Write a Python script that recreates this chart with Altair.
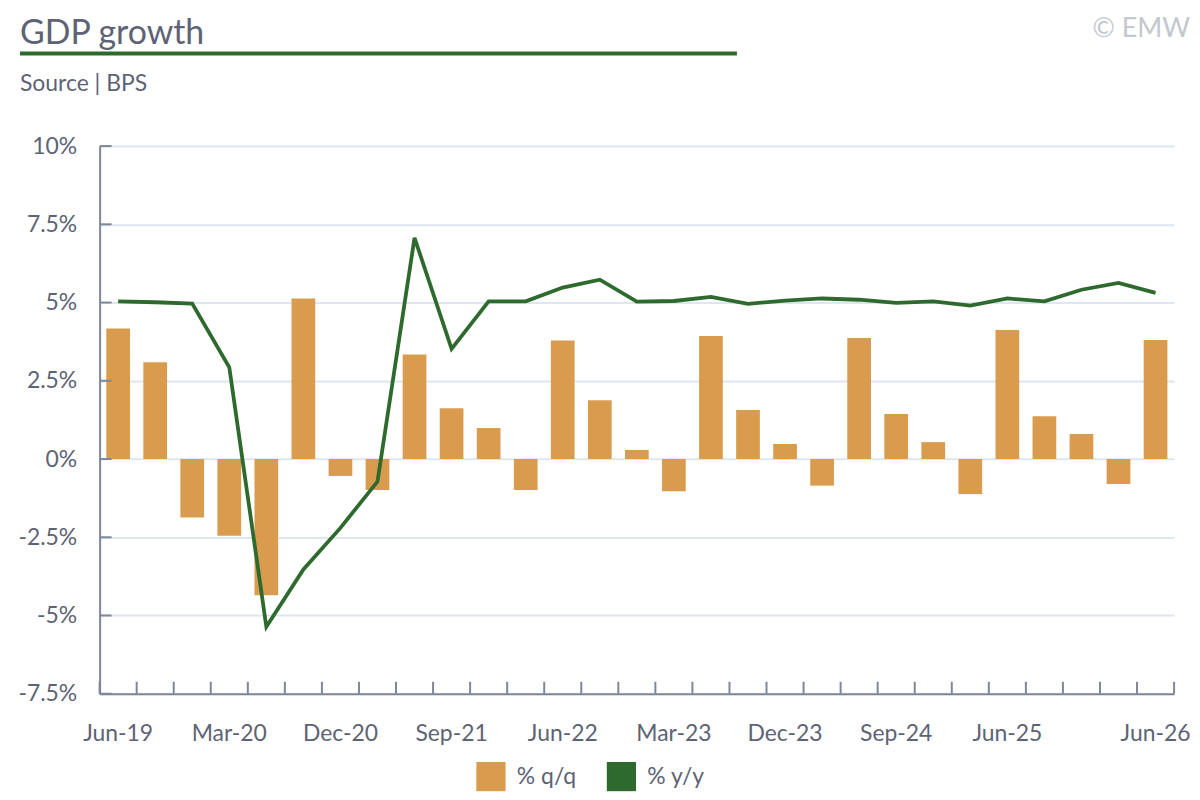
import altair as alt
import pandas as pd

quarters = ["Jun-19", "Sep-19", "Dec-19", "Mar-20", "Jun-20", "Sep-20", "Dec-20", "Mar-21",
            "Jun-21", "Sep-21", "Dec-21", "Mar-22", "Jun-22", "Sep-22", "Dec-22", "Mar-23",
            "Jun-23", "Sep-23", "Dec-23", "Mar-24", "Jun-24", "Sep-24", "Dec-24", "Mar-25",
            "Jun-25", "Sep-25", "Dec-25", "Mar-26", "Jun-26"]
qq = [4.17, 3.09, -1.87, -2.45, -4.35, 5.13, -0.54, -0.99,
      3.34, 1.62, 0.99, -0.99, 3.79, 1.88, 0.29, -1.03,
      3.93, 1.57, 0.48, -0.85, 3.87, 1.44, 0.54, -1.12,
      4.12, 1.37, 0.80, -0.80, 3.80]
yy = [5.04, 5.01, 4.97, 2.93, -5.36, -3.53, -2.2, -0.72,
      7.07, 3.52, 5.04, 5.04, 5.48, 5.73, 5.03, 5.05,
      5.18, 4.96, 5.06, 5.13, 5.09, 4.99, 5.04, 4.9,
      5.13, 5.04, 5.41, 5.63, 5.31]
series = ["% q/q", "% y/y"]
x_labels = ["Jun-19", "Mar-20", "Dec-20", "Sep-21", "Jun-22", "Mar-23", "Dec-23",
            "Sep-24", "Jun-25", "Jun-26"]
y_ticks = [10, 7.5, 5, 2.5, 0, -2.5, -5, -7.5]
title_text = ["GDP growth"]
source_text = ["Source | BPS"]
copy_text = ["© EMW"]

ORANGE = "#d99c4e"
GREEN = "#2e6a2e"
TEXT = "#5d6375"
AXIS = "#7e8698"
GRID = "#dde6f1"
FONT = "Lato"

W, H = 1079, 550
STEP = W / len(quarters)

df = pd.DataFrame({"quarter": quarters, "qq": qq, "yy": yy, "series": series[0]})

xscale = alt.Scale(type="band", domain=quarters, paddingInner=0.36, paddingOuter=0.18)
yscale = alt.Scale(domain=[-7.5, 10], nice=False, zero=False)

bars = alt.Chart(df).mark_bar(color=ORANGE).encode(
    x=alt.X("quarter:N", scale=xscale, sort=quarters, title=None,
            axis=alt.Axis(values=x_labels, ticks=False, tickSize=0, labelPadding=29,
                          labelFontSize=23, labelColor=TEXT, labelFont=FONT,
                          labelAngle=0, labelOverlap=False, domainColor=AXIS,
                          domainWidth=2, grid=False)),
    y=alt.Y("qq:Q", scale=yscale, title=None,
            axis=alt.Axis(values=y_ticks, labelExpr="datum.value + '%'", ticks=False,
                          tickSize=0, labelPadding=23, labelFontSize=23, labelColor=TEXT,
                          labelFont=FONT, domainColor=AXIS, domainWidth=2, grid=True,
                          gridColor=GRID, gridWidth=2)),
    color=alt.Color("series:N",
                    scale=alt.Scale(domain=series, range=[ORANGE, GREEN]),
                    legend=alt.Legend(title=None, orient="none", legendX=378, legendY=618,
                                      direction="horizontal", symbolType="square",
                                      symbolSize=860, symbolStrokeWidth=0,
                                      labelFontSize=23, labelColor=TEXT, labelFont=FONT,
                                      labelOffset=11, columnPadding=30, padding=0)),
)

line = alt.Chart(df).mark_line(color=GREEN, strokeWidth=3.8).encode(
    x=alt.X("quarter:N", scale=xscale, sort=quarters, title=None),
    y=alt.Y("yy:Q", scale=yscale, title=None),
)

xticks = alt.Chart(df).mark_rule(color=AXIS, strokeWidth=2, xOffset=-0.18 * STEP).encode(
    x=alt.X("quarter:N", scale=xscale, sort=quarters, title=None, bandPosition=0),
    y=alt.value(H - 12),
    y2=alt.value(H),
)
xtick_end = alt.Chart(pd.DataFrame({"a": [0]})).mark_rule(color=AXIS, strokeWidth=2).encode(
    x=alt.value(W), y=alt.value(H - 12), y2=alt.value(H),
)

yticks = alt.Chart(pd.DataFrame({"v": y_ticks})).mark_rule(color=AXIS, strokeWidth=2).encode(
    y=alt.Y("v:Q", scale=yscale, title=None),
    x=alt.value(0),
    x2=alt.value(12),
)

title = alt.Chart(pd.DataFrame({"t": title_text})).mark_text(
    align="left", baseline="alphabetic", fontSize=34, font=FONT, color=TEXT
).encode(text="t:N", x=alt.value(-80), y=alt.value(-103))

underline = alt.Chart(pd.DataFrame({"a": [0]})).mark_rule(color=GREEN, strokeWidth=4).encode(
    x=alt.value(-80), x2=alt.value(640), y=alt.value(-93),
)

source = alt.Chart(pd.DataFrame({"t": source_text})).mark_text(
    align="left", baseline="alphabetic", fontSize=23, font=FONT, color=TEXT
).encode(text="t:N", x=alt.value(-80), y=alt.value(-55))

copyright_ = alt.Chart(pd.DataFrame({"t": copy_text})).mark_text(
    align="right", baseline="alphabetic", fontSize=27, font=FONT, color="#c3c7ce"
).encode(text="t:N", x=alt.value(1095), y=alt.value(-110))

chart = alt.layer(
    bars, line, xticks, xtick_end, yticks, title, underline, source, copyright_
).properties(
    width=W, height=H,
    background="white",
    autosize=alt.AutoSizeParams(type="none"),
    padding={"left": 92, "top": 137, "right": 18, "bottom": 97},
).configure_view(stroke=None)

chart.save("out.html", embed_options={"renderer": "svg", "actions": False})
